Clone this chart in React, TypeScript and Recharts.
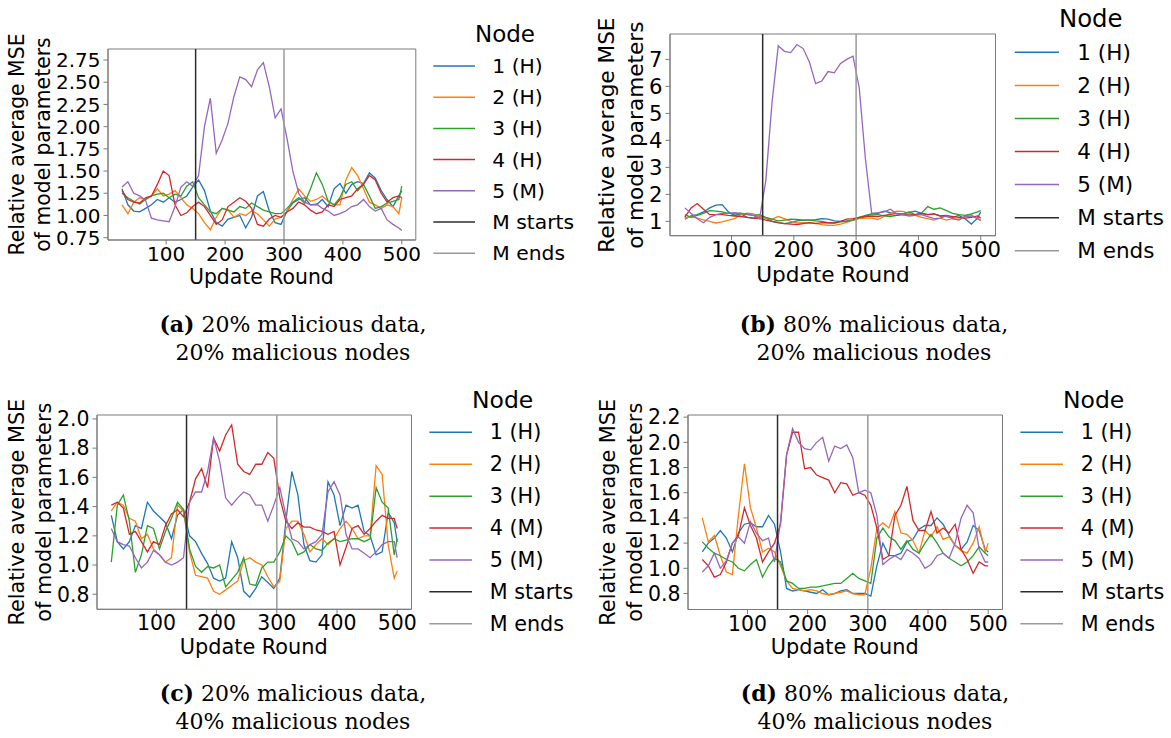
import React from 'react';
import { LineChart, Line, XAxis, YAxis, ReferenceLine, ReferenceArea } from 'recharts';

// Update rounds
const rounds = [25,35,45,55,65,75,85,95,105,115,125,135,145,155,165,175,185,195,205,215,225,235,245,255,265,275,285,295,305,315,325,335,345,355,365,375,385,395,405,415,425,435,445,455,465,475,485,495,500];

// (a) 20% malicious data, 20% malicious nodes
const a1 = [1.30,1.12,1.05,1.04,1.08,1.12,1.18,1.15,1.20,1.15,1.18,1.22,1.32,1.40,1.28,1.05,0.92,0.88,0.96,0.98,1.00,0.86,0.98,1.22,1.27,1.05,0.92,0.90,1.05,1.14,1.18,1.20,1.12,1.12,1.18,1.10,1.30,1.36,1.25,1.35,1.38,1.36,1.48,1.42,1.28,1.18,1.10,1.22,1.28];
const a2 = [1.12,1.02,1.15,1.20,1.18,1.22,1.30,1.22,1.24,1.28,1.20,1.12,1.08,1.02,0.92,0.84,0.98,1.08,1.06,0.98,1.02,1.00,1.05,1.02,0.95,0.88,0.96,0.98,1.04,1.18,1.30,1.22,1.16,1.18,1.22,1.16,1.12,1.12,1.40,1.54,1.45,1.30,1.15,1.12,1.08,1.12,1.10,1.02,1.20];
const a3 = [1.25,1.20,1.16,1.13,1.18,1.22,1.24,1.25,1.20,1.24,1.22,1.33,1.38,1.20,1.12,1.04,1.02,1.08,1.06,1.04,1.10,1.08,1.14,1.10,1.06,1.04,1.02,1.02,1.08,1.15,1.20,1.14,1.30,1.48,1.35,1.16,1.12,1.20,1.35,1.38,1.28,1.35,1.22,1.08,1.10,1.14,1.16,1.18,1.33];
const a4 = [1.28,1.18,1.15,1.14,1.20,1.22,1.35,1.50,1.45,1.12,1.00,1.03,1.10,1.15,1.10,1.00,0.90,0.95,1.10,1.15,1.20,1.16,1.08,0.90,0.88,0.96,1.00,0.98,1.04,1.08,1.15,1.12,1.06,1.02,1.04,1.12,1.10,1.18,1.20,1.22,1.30,1.35,1.45,1.40,1.25,1.15,1.20,1.22,1.20];
const a5 = [1.32,1.38,1.25,1.22,1.17,0.97,0.95,0.94,0.93,1.10,1.32,1.38,1.33,1.45,2.00,2.32,1.70,1.85,2.04,2.34,2.56,2.53,2.45,2.64,2.72,2.45,2.10,2.20,1.87,1.50,1.25,1.15,1.12,1.13,1.08,1.05,1.00,1.02,1.05,1.10,1.12,1.18,1.10,1.05,1.08,0.95,0.90,0.86,0.83];

// (b) 80% malicious data, 20% malicious nodes
const b1 = [1.08,1.20,1.25,1.35,1.50,1.60,1.62,1.35,1.22,1.28,1.15,1.12,1.18,1.12,1.00,0.95,0.92,0.95,1.02,1.05,1.05,1.06,1.10,1.08,1.02,1.00,1.02,1.05,1.12,1.18,1.28,1.30,1.38,1.32,1.30,1.28,1.33,1.38,1.30,1.25,1.28,1.20,1.18,1.15,1.22,1.10,0.90,1.12,1.35];
const b2 = [1.12,1.18,1.12,1.06,1.00,0.94,0.98,1.05,1.10,1.25,1.30,1.28,1.18,1.12,1.08,1.18,1.10,1.00,0.94,0.95,0.94,0.93,0.88,0.85,0.85,0.90,0.96,1.05,1.10,1.12,1.12,1.07,1.18,1.30,1.38,1.37,1.30,1.22,1.15,1.10,1.05,1.12,1.05,1.10,1.08,1.20,1.25,1.10,1.02];
const b3 = [1.25,1.15,1.22,1.30,1.40,1.38,1.35,1.30,1.28,1.30,1.25,1.22,1.25,1.15,1.08,1.02,1.05,1.08,1.07,1.05,1.05,1.02,1.00,0.95,0.95,0.98,1.00,1.05,1.15,1.22,1.28,1.25,1.20,1.18,1.22,1.28,1.35,1.25,1.30,1.55,1.45,1.50,1.40,1.30,1.25,1.22,1.28,1.35,1.40];
const b4 = [1.15,1.50,1.66,1.45,1.25,1.25,1.25,1.22,1.20,1.18,1.15,1.12,1.10,1.05,1.00,0.95,0.92,0.90,0.88,0.92,0.95,0.92,0.95,0.95,0.94,1.00,1.08,1.10,1.15,1.18,1.20,1.18,1.22,1.25,1.22,1.25,1.24,1.25,1.30,1.25,1.28,1.20,1.22,1.18,1.15,1.12,1.15,1.20,1.12];
const b5 = [1.50,1.30,1.10,0.95,1.15,1.25,1.30,1.30,1.32,1.30,1.28,1.22,1.10,2.50,5.40,7.50,7.30,7.25,7.55,7.40,6.90,6.10,6.20,6.55,6.50,6.85,7.00,7.12,5.95,3.30,1.30,1.32,1.35,1.45,1.28,1.25,1.20,1.22,1.25,1.18,1.10,1.12,1.20,1.10,1.05,1.18,1.20,1.10,1.05];

// (c) 20% malicious data, 40% malicious nodes
const c1 = [1.34,1.16,1.11,1.16,1.27,1.25,1.43,1.37,1.33,1.29,1.18,1.34,1.38,1.20,1.16,1.08,1.01,0.91,0.89,0.91,1.16,1.05,0.82,0.78,0.84,0.92,0.88,0.84,0.91,1.30,1.64,1.48,1.14,1.03,1.02,1.07,1.57,1.48,1.27,1.41,1.39,1.41,1.23,1.20,1.07,1.09,1.36,1.29,1.16];
const c2 = [1.37,1.43,1.41,1.32,1.30,1.18,1.21,1.11,1.07,1.02,1.05,1.41,1.37,1.09,0.93,0.92,0.91,0.82,0.80,0.83,0.86,0.89,1.03,1.05,1.02,1.00,0.92,0.85,0.89,1.25,1.30,1.30,1.21,1.09,1.14,1.18,1.14,1.18,1.25,1.30,1.25,1.18,1.20,1.20,1.68,1.62,1.14,0.91,0.96];
const c3 = [1.02,1.41,1.48,1.30,0.95,1.07,1.27,1.25,1.11,1.23,1.32,1.43,1.38,1.11,0.99,0.95,0.99,0.98,1.00,0.85,0.90,0.95,1.05,0.87,0.86,0.98,1.02,1.02,1.09,1.20,1.16,1.07,1.09,1.14,1.11,1.10,1.15,1.18,1.16,1.17,1.18,1.18,1.16,1.18,1.53,1.43,1.39,1.07,1.18];
const c4 = [1.41,1.43,1.39,1.21,1.23,1.16,1.09,1.16,1.14,1.27,1.35,1.38,1.33,1.43,1.59,1.66,1.53,1.87,1.78,1.89,1.96,1.69,1.64,1.62,1.69,1.69,1.77,1.73,1.46,1.30,1.25,1.29,1.26,1.26,1.24,1.23,1.21,1.23,1.00,1.12,1.25,1.27,1.21,1.25,1.30,1.34,1.32,1.32,1.25];
const c5 = [1.25,1.16,1.14,1.13,1.05,0.98,1.02,1.10,1.07,1.02,1.00,1.02,1.05,1.43,1.50,1.50,1.64,1.87,1.71,1.46,1.41,1.46,1.50,1.48,1.41,1.41,1.30,1.41,1.53,1.34,1.18,1.16,1.11,1.14,1.16,1.21,1.50,1.57,1.48,1.21,1.11,1.11,1.08,1.05,1.09,1.14,1.16,1.16,1.05];

// (d) 80% malicious data, 40% malicious nodes
const d1 = [1.13,1.20,1.24,1.30,1.24,1.13,1.28,1.35,1.36,1.33,1.33,1.42,1.35,1.13,0.84,0.82,0.83,0.82,0.81,0.80,0.83,0.79,0.80,0.82,0.83,0.80,0.80,0.80,0.78,1.02,1.20,1.10,1.10,1.12,1.21,1.23,1.31,1.34,1.34,1.40,1.35,1.26,1.18,1.15,1.21,1.34,1.30,1.15,1.13];
const d2 = [1.40,1.21,1.26,1.10,0.97,0.95,1.42,1.83,1.48,1.32,1.13,1.16,1.13,1.02,0.90,0.84,0.83,0.82,0.83,0.82,0.80,0.79,0.80,0.81,0.82,0.80,0.79,0.79,1.00,1.32,1.36,1.32,1.45,1.28,1.27,1.22,1.12,1.30,1.25,1.33,1.23,1.25,1.18,1.14,1.12,1.20,1.33,1.13,1.20];
const d3 = [1.21,1.16,1.12,1.10,1.07,1.05,1.00,0.98,1.03,1.07,0.93,1.02,1.08,1.05,0.90,0.88,0.84,0.84,0.85,0.85,0.86,0.87,0.88,0.88,0.92,0.96,0.92,0.90,0.88,1.24,1.32,1.25,1.22,1.15,1.22,1.15,1.12,1.20,1.27,1.20,1.12,1.08,1.05,1.02,1.05,1.10,1.17,1.12,1.10];
const d4 = [1.07,1.02,0.93,0.95,1.05,1.20,1.26,1.48,1.34,1.24,1.05,1.13,1.20,1.35,1.90,2.08,2.08,1.79,1.80,1.74,1.72,1.70,1.60,1.68,1.67,1.58,1.60,1.58,1.50,1.32,1.07,1.10,1.42,1.50,1.65,1.38,1.30,1.30,1.45,1.28,1.32,1.28,1.35,1.15,1.07,0.96,1.05,1.02,1.02];
const d5 = [0.97,1.02,1.12,1.00,1.06,1.20,1.25,1.20,1.37,1.28,1.22,1.24,1.05,1.37,1.90,2.11,2.00,1.95,1.94,2.00,2.04,1.85,1.97,1.95,1.98,1.88,1.60,1.62,1.60,1.42,1.03,1.07,1.10,1.07,1.15,1.12,1.08,1.00,1.03,1.10,1.12,1.08,1.20,1.40,1.50,1.44,1.15,1.05,1.05];

const xTicks = [100, 200, 300, 400, 500];
const yTicksA = [0.75, 1.0, 1.25, 1.5, 1.75, 2.0, 2.25, 2.5, 2.75];
const yTicksB = [1, 2, 3, 4, 5, 6, 7];
const yTicksC = [0.8, 1.0, 1.2, 1.4, 1.6, 1.8, 2.0];
const yTicksD = [0.8, 1.0, 1.2, 1.4, 1.6, 1.8, 2.0, 2.2];

const legendAB = ['1 (H)', '2 (H)', '3 (H)', '4 (H)', '5 (M)', 'M starts', 'M ends'];
const legendCD = ['1 (H)', '2 (H)', '3 (H)', '4 (M)', '5 (M)', 'M starts', 'M ends'];
const legendTitle = 'Node';
const yLabel1 = 'Relative average MSE';
const yLabel2 = 'of model parameters';
const xLabel = 'Update Round';
const startRound = 150;
const endRound = 300;

const colors = ['#1f77b4', '#ff7f0e', '#2ca02c', '#d62728', '#9467bd'];
const startColor = '#2b2b2b';
const endColor = '#9a9a9a';
const frameColor = '#7a7a7a';
const FONT = '"DejaVu Sans", sans-serif';
const SERIF = '"DejaVu Serif", serif';
const X_DOMAIN: [number, number] = [1.25, 523.75];

function build(s1: number[], s2: number[], s3: number[], s4: number[], s5: number[]) {
  return rounds.map((r, i) => ({ round: r, n1: s1[i], n2: s2[i], n3: s3[i], n4: s4[i], n5: s5[i] }));
}

const panels = [
  { key: 'a', left: 107.5, top: 49, w: 307.8, h: 191, s: 1.0, yDomain: [0.724, 2.874], yTicks: yTicksA, dec: 2, data: build(a1, a2, a3, a4, a5), legend: legendAB, yl1: 16.5, yl2: 43, capX: 293, capY: 332, tag: '(a)', cap1: ' 20% malicious data,', cap2: '20% malicious nodes' },
  { key: 'b', left: 670.2, top: 34.3, w: 325.5, h: 201.7, s: 1.06, yDomain: [0.47, 7.94], yTicks: yTicksB, dec: 0, data: build(b1, b2, b3, b4, b5), legend: legendAB, yl1: 606.7, yl2: 635, capX: 874, capY: 332, tag: '(b)', cap1: ' 80% malicious data,', cap2: '20% malicious nodes' },
  { key: 'c', left: 96.5, top: 415, w: 314.5, h: 194.3, s: 1.022, yDomain: [0.697, 2.027], yTicks: yTicksC, dec: 1, data: build(c1, c2, c3, c4, c5), legend: legendCD, yl1: 16.5, yl2: 43.5, capX: 293, capY: 701, tag: '(c)', cap1: ' 20% malicious data,', cap2: '40% malicious nodes' },
  { key: 'd', left: 687.5, top: 415, w: 314.5, h: 194.5, s: 1.022, yDomain: [0.673, 2.217], yTicks: yTicksD, dec: 1, data: build(d1, d2, d3, d4, d5), legend: legendCD, yl1: 608.3, yl2: 635.3, capX: 875, capY: 701, tag: '(d)', cap1: ' 80% malicious data,', cap2: '40% malicious nodes' },
];

const YW = 70;
const MT = 10;

function Chart({ p }: { p: any }) {
  const fs = 20 * p.s;
  const tick = { fill: '#000', fontSize: fs, fontFamily: FONT };
  return (
    <div style={{ position: 'absolute', left: p.left - YW, top: p.top - MT }}>
      <LineChart width={p.w + YW + 12} height={p.h + MT + 40} data={p.data} margin={{ top: MT, right: 12, left: 0, bottom: 0 }}>
        <XAxis dataKey="round" type="number" domain={X_DOMAIN} ticks={xTicks} allowDataOverflow height={40}
          stroke={frameColor} tick={tick} tickSize={4.5} tickMargin={2} interval={0} />
        <YAxis type="number" domain={p.yDomain} ticks={p.yTicks} allowDataOverflow width={YW}
          stroke={frameColor} tick={tick} tickSize={4.5} tickMargin={3} interval={0}
          tickFormatter={(v: number) => v.toFixed(p.dec)} />
        <ReferenceArea x1={X_DOMAIN[0]} x2={X_DOMAIN[1]} y1={p.yDomain[0]} y2={p.yDomain[1]} fill="none" fillOpacity={0} stroke={frameColor} strokeWidth={1} />
        {['n1', 'n2', 'n3', 'n4', 'n5'].map((k, i) => (
          <Line key={k} type="linear" dataKey={k} stroke={colors[i]} strokeWidth={1.3} dot={false} isAnimationActive={false} />
        ))}
        <ReferenceLine x={startRound} stroke={startColor} strokeWidth={1.5} />
        <ReferenceLine x={endRound} stroke={endColor} strokeWidth={1.5} />
      </LineChart>
    </div>
  );
}

function Overlay() {
  return (
    <svg width={1171} height={738} style={{ position: 'absolute', left: 0, top: 0, pointerEvents: 'none' }}>
      {panels.map((p) => {
        const s = p.s;
        const right = p.left + p.w;
        const cy = p.top + p.h / 2;
        const lfs = 20.4 * s;
        const lineX1 = right + 18 * s;
        const lineX2 = lineX1 + 41.7 * s;
        const textX = right + 77 * s;
        const rowY = (i: number) => p.top + 17 * s + i * 31.2 * s;
        const lineColors = [...colors, startColor, endColor];
        return (
          <g key={p.key}>
            <text transform={`translate(${p.yl1},${cy}) rotate(-90)`} textAnchor="middle" dominantBaseline="central" fontFamily={FONT} fontSize={lfs} fill="#000">{yLabel1}</text>
            <text transform={`translate(${p.yl2},${cy}) rotate(-90)`} textAnchor="middle" dominantBaseline="central" fontFamily={FONT} fontSize={lfs} fill="#000">{yLabel2}</text>
            <text x={p.left + p.w / 2} y={p.top + p.h + 36.5 * s} textAnchor="middle" dominantBaseline="central" fontFamily={FONT} fontSize={lfs} fill="#000">{xLabel}</text>
            <text x={right + 89.7 * s} y={p.top - 15 * s} textAnchor="middle" dominantBaseline="central" fontFamily={FONT} fontSize={23 * s} fill="#000">{legendTitle}</text>
            {p.legend.map((lab: string, i: number) => (
              <g key={lab}>
                <line x1={lineX1} x2={lineX2} y1={rowY(i)} y2={rowY(i)} stroke={lineColors[i]} strokeWidth={1.5} />
                <text x={textX} y={rowY(i)} dominantBaseline="central" fontFamily={FONT} fontSize={20.3 * s} fill="#000">{lab}</text>
              </g>
            ))}
            <text x={p.capX} y={p.capY} textAnchor="middle" fontFamily={SERIF} fontSize={22} fill="#000">
              <tspan fontWeight="bold">{p.tag}</tspan>{p.cap1}
            </text>
            <text x={p.capX} y={p.capY + 27.5} textAnchor="middle" fontFamily={SERIF} fontSize={22} fill="#000">{p.cap2}</text>
          </g>
        );
      })}
    </svg>
  );
}

export default function App() {
  return (
    <div style={{ position: 'absolute', left: 0, top: 0, width: 1171, height: 738, background: '#fff', overflow: 'hidden' }}>
      {panels.map((p) => <Chart key={p.key} p={p} />)}
      <Overlay />
    </div>
  );
}
